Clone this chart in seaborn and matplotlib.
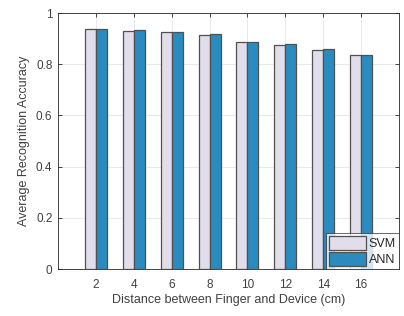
import matplotlib
matplotlib.use("Agg")
import matplotlib.pyplot as plt
import seaborn as sns
import pandas as pd

distances = [2, 4, 6, 8, 10, 12, 14, 16]
svm_acc = [0.936, 0.930, 0.925, 0.913, 0.886, 0.875, 0.857, 0.837]
ann_acc = [0.939, 0.934, 0.927, 0.917, 0.887, 0.877, 0.860, 0.837]
methods = ["SVM", "ANN"]
colors = ["#E2DDEB", "#2A8BBF"]

df = pd.DataFrame({
    "Distance": [str(d) for d in distances] * 2,
    "Accuracy": svm_acc + ann_acc,
    "Method": ["SVM"] * len(distances) + ["ANN"] * len(distances),
})

sns.set_style("white")
plt.rcParams["font.family"] = ["Liberation Sans", "DejaVu Sans"]

txt = "#404040"
fig = plt.figure(figsize=(4.04, 3.16), dpi=100)
ax = fig.add_axes([58/404, 1 - 269/316, (399-58)/404, (269-13)/316])

sns.barplot(data=df, x="Distance", y="Accuracy", hue="Method",
            hue_order=methods, palette=colors, width=0.58, gap=0,
            edgecolor="#505050", linewidth=0.9, ax=ax, saturation=1)

ax.set_xlim(-1, 8)
ax.set_ylim(0, 1)
ax.set_yticks([0, 0.2, 0.4, 0.6, 0.8, 1])
ax.set_yticklabels(["0", "0.2", "0.4", "0.6", "0.8", "1"])
ax.set_axisbelow(True)
ax.grid(True, color="#E6E6E6", linewidth=0.6)
ax.tick_params(direction="in", length=3, width=0.6, colors="#262626",
               labelsize=8.5, labelcolor=txt, top=True, right=True,
               bottom=True, left=True)
ax.tick_params(axis="x", pad=7)
ax.tick_params(axis="y", pad=4)
for s in ax.spines.values():
    s.set_color("#262626")
    s.set_linewidth(0.6)
ax.set_xlabel("Distance between Finger and Device (cm)", fontsize=9,
              color=txt, labelpad=2)
ax.set_ylabel("Average Recognition Accuracy", fontsize=9,
              color=txt, labelpad=4)

leg = ax.legend(loc="lower right", fontsize=9, frameon=True, fancybox=False,
                borderpad=0.25, handlelength=3.0, handleheight=1.35,
                handletextpad=0.2, labelspacing=0.15, borderaxespad=0,
                title=None)
leg.get_frame().set_edgecolor("#262626")
leg.get_frame().set_linewidth(0.6)
for t in leg.get_texts():
    t.set_color("#262626")

fig.savefig("out.png", dpi=100)
